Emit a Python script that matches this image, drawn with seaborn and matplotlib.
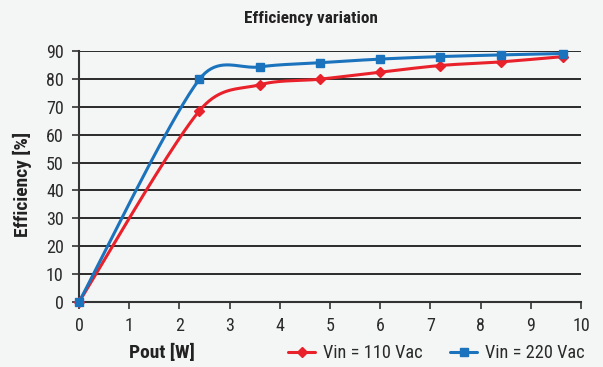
import numpy as np
import pandas as pd
import matplotlib
matplotlib.use("Agg")
import matplotlib.pyplot as plt
from matplotlib.lines import Line2D
import seaborn as sns

# Output power [W] and measured efficiency [%]
pout = [0.0, 2.4, 3.6, 4.8, 6.0, 7.2, 8.4, 9.65]
eff_110 = [0.0, 68.6, 77.9, 79.9, 82.4, 84.8, 86.1, 88.0]
eff_220 = [0.0, 79.9, 84.3, 85.8, 87.1, 88.0, 88.6, 89.1]

x_ticks = list(range(0, 11))
y_ticks = list(range(0, 100, 10))

RED = "#e8212b"
BLUE = "#1a73bc"
BG = "#f4f5f5"
FONT = ["Roboto Condensed", "DejaVu Sans"]

sns.set_theme(style="white")
plt.rcParams["font.family"] = FONT

fig = plt.figure(figsize=(6.03, 3.67), dpi=100, facecolor=BG)
ax = fig.add_axes([79 / 603, 1 - 302 / 367, 502 / 603, 251 / 367])
ax.set_facecolor(BG)
ax.set_xlim(0, 10)
ax.set_ylim(0, 90)


def smooth_curve(ax, xs, ys, steps=40):
    """Bezier smoothing in screen space with control arms capped at half a segment."""
    pts = ax.transData.transform(np.column_stack([xs, ys]))
    n = len(pts)
    out = [pts[0]]
    t = np.linspace(0, 1, steps)[1:, None]
    for i in range(n - 1):
        p0 = pts[i - 1] if i > 0 else pts[i]
        p1, p2 = pts[i], pts[i + 1]
        p3 = pts[i + 2] if i + 2 < n else pts[i + 1]
        d12 = np.linalg.norm(p2 - p1)
        d02 = np.linalg.norm(p2 - p0)
        d13 = np.linalg.norm(p3 - p1)
        f1 = 1 / 6 if d02 / 6 < d12 / 2 else d12 / (2 * d02)
        f2 = 1 / 6 if d13 / 6 < d12 / 2 else d12 / (2 * d13)
        c1 = p1 + (p2 - p0) * f1
        c2 = p2 - (p3 - p1) * f2
        seg = ((1 - t) ** 3) * p1 + 3 * t * (1 - t) ** 2 * c1 + 3 * t ** 2 * (1 - t) * c2 + t ** 3 * p2
        out.extend(seg)
    data = ax.transData.inverted().transform(np.array(out))
    return data[:, 0], data[:, 1]


# horizontal grid
for yv in y_ticks[1:]:
    ax.axhline(yv, color="#1a1a1a", lw=1.3, zorder=1)

series = [
    ("Vin = 110 Vac", eff_110, RED, "D", 5.0),
    ("Vin = 220 Vac", eff_220, BLUE, "s", 6.3),
]
handles = []
for label, ys, color, marker, ms in series:
    sx, sy = smooth_curve(ax, pout, ys)
    curve = pd.DataFrame({"x": sx, "y": sy})
    sns.lineplot(data=curve, x="x", y="y", sort=False, estimator=None,
                 color=color, lw=2.2, ax=ax, zorder=3)
    ax.plot(pout, ys, linestyle="none", marker=marker, ms=ms, color=color,
            mec=color, zorder=4, clip_on=False)
    handles.append(Line2D([], [], color=color, lw=2.2, marker=marker, ms=ms, mec=color))

ax.set_xticks(x_ticks)
ax.set_yticks(y_ticks)
ax.set_xticklabels([str(v) for v in x_ticks])
ax.set_yticklabels([str(v) for v in y_ticks])
ax.tick_params(axis="both", which="major", direction="out", length=5, width=1.2,
               color="#333333", labelsize=13, labelcolor="#2a2a2a", pad=6,
               bottom=True, left=True)

for side in ["top", "right"]:
    ax.spines[side].set_visible(False)
for side in ["left", "bottom"]:
    ax.spines[side].set_color("#333333")
    ax.spines[side].set_linewidth(1.5)

ax.set_xlabel("")
ax.set_ylabel("")
fig.text(311 / 603, 1 - 18 / 367, "Efficiency variation", ha="center", va="center",
         fontsize=12.3, fontweight="bold", color="#222222")
fig.text(22 / 603, 1 - 184 / 367, "Efficiency [%]", ha="center", va="center",
         rotation=90, fontsize=14, fontweight="bold", color="#222222")
fig.text(162 / 603, 1 - 353 / 367, "Pout [W]", ha="center", va="center",
         fontsize=14, fontweight="bold", color="#222222")

fig.legend(handles, [s[0] for s in series], ncol=2, loc="center",
           bbox_to_anchor=(436 / 603, 1 - 353 / 367), frameon=False,
           fontsize=13.2, handlelength=1.5, handletextpad=0.4, columnspacing=1.5,
           labelcolor="#2a2a2a")

fig.savefig("out.png", dpi=100, facecolor=BG)
